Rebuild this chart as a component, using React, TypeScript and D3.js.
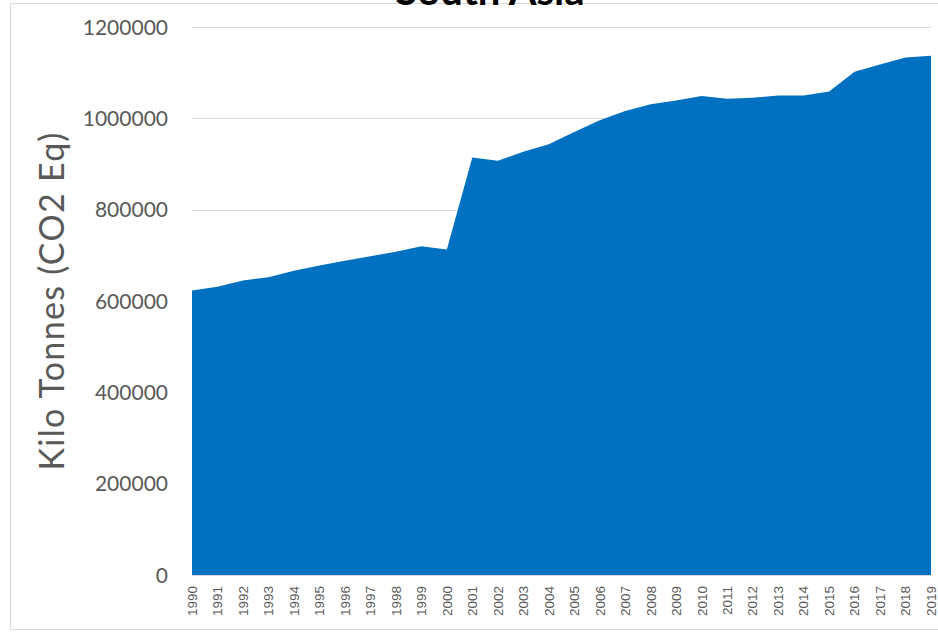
import React from "react";
import * as d3 from "d3";

const years: number[] = [
  1990, 1991, 1992, 1993, 1994, 1995, 1996, 1997, 1998, 1999,
  2000, 2001, 2002, 2003, 2004, 2005, 2006, 2007, 2008, 2009,
  2010, 2011, 2012, 2013, 2014, 2015, 2016, 2017, 2018, 2019,
];
const emissions: number[] = [
  623000, 631000, 645000, 652000, 666000, 678000, 688000, 698000, 708000, 720000,
  713000, 914000, 907000, 927000, 943000, 970000, 996000, 1016000, 1031000, 1039000,
  1049000, 1043000, 1045000, 1050000, 1050000, 1059000, 1102000, 1118000, 1133000, 1137000,
];
const yTicks: number[] = [0, 200000, 400000, 600000, 800000, 1000000, 1200000];
const title = "South Asia";
const yTitle = "Kilo Tonnes (CO2 Eq)";

const W = 938;
const H = 632;
const left = 192;
const right = 931;
const top = 27;
const bottom = 575;

export default function App() {
  const x = d3.scaleLinear().domain([years[0], years[years.length - 1]]).range([left, right]);
  const y = d3.scaleLinear().domain([0, 1200000]).range([bottom, top]);
  const data = years.map((yr, i) => ({ yr, v: emissions[i] }));
  const area = d3
    .area<{ yr: number; v: number }>()
    .x((d) => x(d.yr))
    .y0(y(0))
    .y1((d) => y(d.v));

  return (
    <svg
      width={W}
      height={H}
      style={{ position: "absolute", left: 0, top: 0, background: "#fff" }}
    >
      <rect x={10.5} y={3.5} width={W + 20} height={626} fill="#fff" stroke="#d9d9d9" strokeWidth={1} />
      {yTicks.map((t) => (
        <line key={t} x1={left} x2={right} y1={Math.round(y(t)) + 0.5} y2={Math.round(y(t)) + 0.5} stroke="#d9d9d9" strokeWidth={1} />
      ))}
      <path d={area(data) || ""} fill="#0070C0" />
      {yTicks.map((t) => (
        <text
          key={"l" + t}
          x={168}
          y={y(t)}
          dy="0.36em"
          textAnchor="end"
          fontFamily="Lato, 'Open Sans', sans-serif"
          fontSize={21}
          fill="#595959"
        >
          {t}
        </text>
      ))}
      {years.map((yr) => (
        <text
          key={"x" + yr}
          transform={`translate(${x(yr)},586) rotate(-90)`}
          dy="0.36em"
          textAnchor="end"
          fontFamily="'Liberation Sans', Arial, sans-serif"
          fontSize={13.5}
          fill="#595959"
        >
          {yr}
        </text>
      ))}
      <text
        transform={`translate(64,301) rotate(-90)`}
        textAnchor="middle"
        fontFamily="Lato, 'Open Sans', sans-serif"
        fontSize={34}
        letterSpacing={1.3}
        fill="#595959"
      >
        {yTitle}
      </text>
      <text
        x={490}
        y={5}
        textAnchor="middle"
        fontFamily="Lato, 'Open Sans', sans-serif"
        fontWeight="bold"
        fontSize={40}
        fill="#000"
      >
        {title}
      </text>
    </svg>
  );
}
